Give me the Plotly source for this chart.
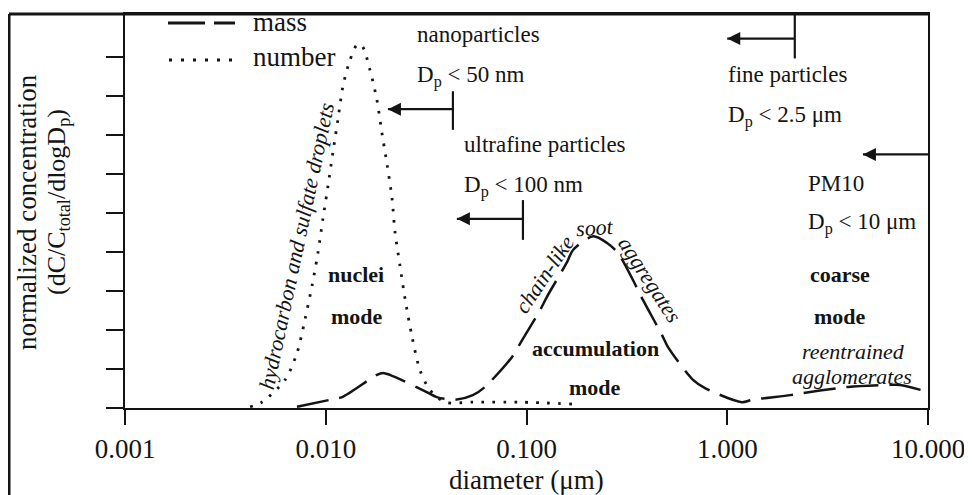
import numpy as np
import plotly.graph_objects as go

# ---------------- data ----------------
number_d = [0.00420, 0.00481, 0.00627, 0.00719, 0.00789, 0.00854, 0.00914, 0.00968,
            0.01026, 0.01086, 0.01151, 0.01219, 0.01321, 0.01432, 0.01518, 0.01660,
            0.01798, 0.01905, 0.02018, 0.02138, 0.02213, 0.02344, 0.02483, 0.02692,
            0.02947, 0.03306, 0.03926, 0.05405, 0.09290, 0.1706]
number_c = [0.03, 0.15, 0.72, 1.41, 2.28, 3.13, 3.97, 4.85,
            5.69, 6.56, 7.41, 8.26, 8.92, 9.31, 9.28, 8.67,
            7.90, 7.05, 6.26, 5.38, 4.51, 3.64, 2.80, 1.82,
            0.97, 0.46, 0.15, 0.15, 0.15, 0.10]

mass_d = [0.00719, 0.0105, 0.01206, 0.01798, 0.01929, 0.02086, 0.03184, 0.03573,
          0.04396, 0.05405, 0.06209, 0.08474, 0.0951, 0.1169, 0.1264, 0.1592,
          0.1706, 0.2147, 0.2519, 0.2858, 0.3549, 0.3802, 0.4733, 0.507,
          0.6753, 0.7747, 1.182, 1.330, 2.056, 2.362, 3.565, 4.001, 6.26, 7.25, 10.0]
mass_c = [0.03, 0.21, 0.28, 0.85, 0.90, 0.85, 0.41, 0.28,
          0.21, 0.33, 0.54, 1.31, 1.74, 2.51, 2.85, 3.74,
          4.05, 4.40, 4.23, 3.97, 3.08, 2.77, 1.87, 1.56,
          0.72, 0.51, 0.15, 0.21, 0.33, 0.38, 0.51, 0.54, 0.59, 0.59, 0.41]

x_tickvals = [0.001, 0.01, 0.1, 1, 10]
x_ticktext = ["0.001", "0.010", "0.100", "1.000", "10.000"]
y_tickvals = [0, 1, 2, 3, 4, 5, 6, 7, 8, 9]

# size-class cut-off arrows: bar position (um), arrow tip (um), arrow level, bar extent
cut_bar_um = [0.043, 0.096, 2.17, 10.0]
cut_tip_um = [0.0204, 0.045, 1.0, 4.74]
cut_level = [7.66, 4.85, 9.47, 6.5]
cut_bar_lo = [7.13, 4.31, 8.96, None]
cut_bar_hi = [8.12, 5.33, 10.1, None]

# ---------------- layout helpers ----------------
# the page body has an 8px margin, so the figure is drawn 8px in from the top-left
OFF = 8
W, H = 972 - OFF, 495 - OFF
L, R, T, B = 125 - OFF, 44, 14 - OFF, 87
PW, PH = W - L - R, H - T - B


def px(x):
    """page pixel x -> paper coordinate"""
    return (x - OFF - L) / PW


def py(y):
    """page pixel y -> paper coordinate"""
    return (H - B - (y - OFF)) / PH


SERIF = "Liberation Serif"
INK = "#141414"

fig = go.Figure()
fig.add_trace(go.Scatter(x=mass_d, y=mass_c, mode="lines", name="mass",
                         line=dict(color=INK, width=2.5, dash="32px,11px", shape="spline", smoothing=0.8),
                         showlegend=False, hoverinfo="skip"))
fig.add_trace(go.Scatter(x=number_d, y=number_c, mode="lines", name="number",
                         line=dict(color=INK, width=2.8, dash="2.6px,8.4px", shape="spline", smoothing=0.8),
                         showlegend=False, hoverinfo="skip"))
# arrowheads of the size-class cut-off arrows
fig.add_trace(go.Scatter(x=cut_tip_um, y=cut_level, mode="markers",
                         marker=dict(symbol="arrow-left", size=13, color=INK,
                                     line=dict(width=0)),
                         showlegend=False, hoverinfo="skip"))

shapes = []
annotations = []

# outer (scanned page) frame
shapes.append(dict(type="line", xref="paper", yref="paper", x0=px(9), x1=px(9), y0=py(14), y1=py(495),
                   line=dict(color=INK, width=3)))
shapes.append(dict(type="line", xref="paper", yref="paper", x0=px(9), x1=px(929), y0=py(14), y1=py(14),
                   line=dict(color=INK, width=3)))
shapes.append(dict(type="line", xref="paper", yref="paper", x0=px(970), x1=px(970), y0=py(380), y1=py(495),
                   line=dict(color="#9a9a9a", width=2)))

# legend (drawn by hand to match the long line samples)
shapes.append(dict(type="line", xref="paper", yref="paper", x0=px(168), x1=px(235), y0=py(23), y1=py(23),
                   line=dict(color=INK, width=3, dash="37px,9px")))
shapes.append(dict(type="line", xref="paper", yref="paper", x0=px(169), x1=px(235), y0=py(60), y1=py(60),
                   line=dict(color=INK, width=3, dash="3px,9px")))
for txt, yy in [("mass", 22), ("number", 57)]:
    annotations.append(dict(text=txt, xref="paper", yref="paper", x=px(251), y=py(yy),
                            xanchor="left", yanchor="middle", showarrow=False,
                            font=dict(family=SERIF, size=27, color=INK)))

# cut-off arrows: shafts and bars (shapes on a log axis take data values)
for bar, tip, lev, lo, hi in zip(cut_bar_um, cut_tip_um, cut_level, cut_bar_lo, cut_bar_hi):
    if lo is not None:
        shapes.append(dict(type="line", xref="x", yref="y", x0=bar, x1=bar, y0=lo, y1=hi,
                           line=dict(color=INK, width=2.2)))
    shapes.append(dict(type="line", xref="x", yref="y", x0=tip, x1=bar, y0=lev, y1=lev,
                       line=dict(color=INK, width=2.2)))

# text labels
plain = [
    ("nanoparticles", 415, 34),
    ("D<sub>p</sub> &lt; 50 nm", 415, 76),
    ("ultrafine particles", 462, 144),
    ("D<sub>p</sub> &lt; 100 nm", 462, 186),
    ("fine particles", 726, 74),
    ("D<sub>p</sub> &lt; 2.5 μm", 726, 116),
    ("PM10", 806, 183),
    ("D<sub>p</sub> &lt; 10 μm", 806, 224),
]
for txt, xx, yy in plain:
    annotations.append(dict(text=txt, xref="paper", yref="paper", x=px(xx), y=py(yy),
                            xanchor="left", yanchor="middle", showarrow=False,
                            font=dict(family=SERIF, size=23, color=INK)))

bold = [
    ("nuclei", 356, 274), ("mode", 357, 316),
    ("accumulation", 595, 348), ("mode", 595, 387),
    ("coarse", 840, 274), ("mode", 840, 316),
]
for txt, xx, yy in bold:
    annotations.append(dict(text="<b>" + txt + "</b>", xref="paper", yref="paper", x=px(xx), y=py(yy),
                            xanchor="center", yanchor="middle", showarrow=False,
                            font=dict(family=SERIF, size=22, color=INK)))

italic = [
    ("reentrained", 853, 351, 0),
    ("agglomerates", 852, 376, 0),
    ("hydrocarbon and sulfate droplets", 296, 246, -78),
    ("chain-like", 544, 274, -56),
    ("soot", 595, 227, -4),
    ("aggregates", 650, 279, 57),
]
for txt, xx, yy, ang in italic:
    annotations.append(dict(text="<i>" + txt + "</i>", xref="paper", yref="paper", x=px(xx), y=py(yy),
                            xanchor="center", yanchor="middle", showarrow=False, textangle=ang,
                            font=dict(family=SERIF, size=22, color=INK)))

# axis titles
annotations.append(dict(text="diameter (μm)", xref="paper", yref="paper", x=px(526), y=py(480),
                        xanchor="center", yanchor="middle", showarrow=False,
                        font=dict(family=SERIF, size=27, color=INK)))
annotations.append(dict(text="normalized concentration", xref="paper", yref="paper", x=px(27), y=py(212),
                        xanchor="center", yanchor="middle", showarrow=False, textangle=-90,
                        font=dict(family=SERIF, size=27, color=INK)))
annotations.append(dict(text="(dC/C<sub>total</sub>/dlogD<sub>p</sub>)", xref="paper", yref="paper",
                        x=px(58), y=py(202),
                        xanchor="center", yanchor="middle", showarrow=False, textangle=-90,
                        font=dict(family=SERIF, size=26, color=INK)))

fig.update_layout(
    width=W, height=H,
    margin=dict(l=L, r=R, t=T, b=B, pad=0, autoexpand=False),
    paper_bgcolor="white", plot_bgcolor="white",
    showlegend=False,
    shapes=shapes, annotations=annotations,
    font=dict(family=SERIF, color=INK),
)
fig.update_xaxes(type="log", range=[-3, 1], tickvals=x_tickvals, ticktext=x_ticktext,
                 ticks="outside", ticklen=15, tickwidth=2, tickcolor=INK,
                 showline=True, linewidth=2.2, linecolor=INK, mirror=True,
                 showgrid=False, zeroline=False,
                 tickfont=dict(family=SERIF, size=27, color=INK))
fig.update_yaxes(range=[0, 10.1], tickvals=y_tickvals, showticklabels=False,
                 ticks="outside", ticklen=17, tickwidth=2, tickcolor=INK,
                 showline=True, linewidth=2.2, linecolor=INK, mirror=True,
                 showgrid=False, zeroline=False)

fig.write_html("out.html")
